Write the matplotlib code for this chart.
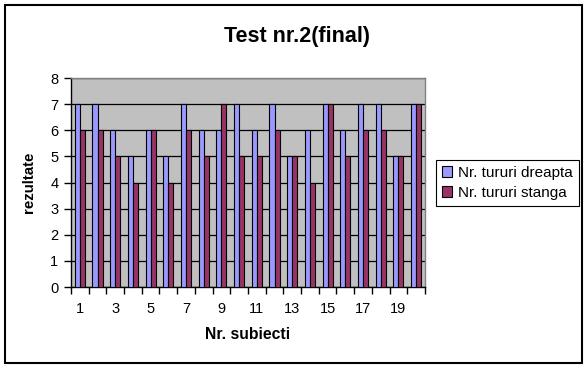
import numpy as np
import matplotlib.pyplot as plt
from matplotlib.patches import Rectangle

plt.rcParams['font.family'] = ['Liberation Sans', 'DejaVu Sans']

subiecti = list(range(1, 21))
dreapta = [7, 7, 6, 5, 6, 5, 7, 6, 6, 7, 6, 7, 5, 6, 7, 6, 7, 7, 5, 7]
stanga = [6, 6, 5, 4, 6, 4, 6, 5, 7, 5, 5, 6, 5, 4, 7, 5, 6, 6, 5, 7]

fig = plt.figure(figsize=(5.88, 3.69), dpi=100)
# chart border
fig.patches.append(Rectangle((5 / 588, 6 / 369), 577 / 588, 358 / 369, transform=fig.transFigure,
                             fill=False, edgecolor='black', linewidth=1.5))

ax = fig.add_axes([0.1207, 0.2222, 0.602, 0.5664])
ax.set_facecolor('#C0C0C0')

x = np.arange(len(subiecti))
w = 1 / 3.5
ax.bar(x - w / 2, dreapta, w, color='#9999FF', edgecolor='black', linewidth=0.8,
       label='Nr. tururi dreapta', zorder=3)
ax.bar(x + w / 2, stanga, w, color='#993366', edgecolor='black', linewidth=0.8,
       label='Nr. tururi stanga', zorder=3)

ax.set_xlim(-0.5, len(subiecti) - 0.5)
ax.set_ylim(0, 8)
ax.set_yticks(range(0, 9))
ax.yaxis.grid(True, color='black', linewidth=0.9, zorder=1)
ax.set_axisbelow(True)

# tick marks on category boundaries, labels on every second category
ax.set_xticks(np.arange(-0.5, len(subiecti), 1))
ax.set_xticklabels([])
ax.set_xticks(x[::2], [str(s) for s in subiecti[::2]], minor=True)
ax.tick_params(axis='x', which='minor', length=0, labelsize=10.5, pad=11)
ax.tick_params(axis='x', which='major', length=5, width=1, direction='out')
ax.tick_params(axis='y', length=5, width=1, direction='out', labelsize=10.5, pad=4)

for side in ['top', 'right']:
    ax.spines[side].set_color('#808080')
    ax.spines[side].set_linewidth(1)
for side in ['left', 'bottom']:
    ax.spines[side].set_color('black')
    ax.spines[side].set_linewidth(1)

ax.set_ylabel('rezultate', fontsize=10.8, fontweight='bold', labelpad=10)
ax.set_xlabel('Nr. subiecti', fontsize=11.3, fontweight='bold', labelpad=8)

fig.suptitle('Test nr.2(final)', x=0.505, y=0.93, fontsize=15.5, fontweight='bold')

leg = ax.legend(loc='upper left', bbox_to_anchor=(1.03, 0.61), fontsize=11,
                frameon=True, fancybox=False, edgecolor='black', framealpha=1,
                handlelength=0.7, handleheight=0.7, handletextpad=0.4,
                borderpad=0.4, labelspacing=0.4, borderaxespad=0)
leg.get_frame().set_linewidth(0.8)

fig.savefig('out.png', dpi=100)
